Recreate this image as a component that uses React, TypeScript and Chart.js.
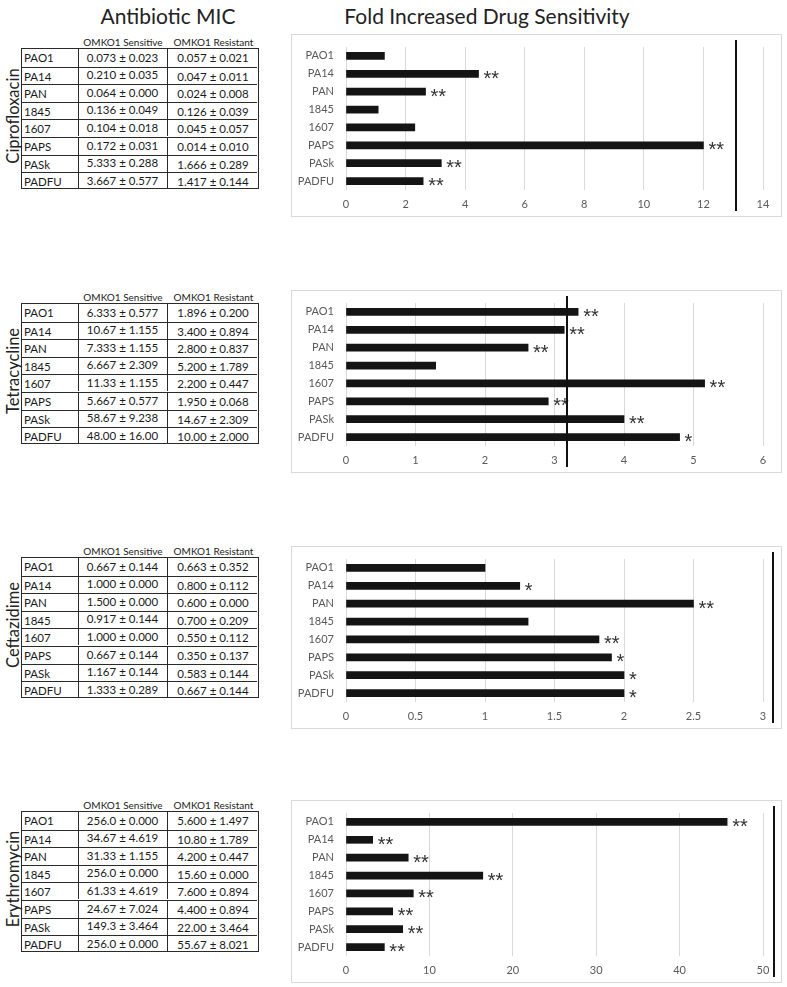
import React, { useEffect, useRef } from "react";
import { Chart, registerables } from "chart.js";
Chart.register(...registerables);

const strains = ["PAO1", "PA14", "PAN", "1845", "1607", "PAPS", "PASk", "PADFU"];
const antibiotics = ["Ciprofloxacin", "Tetracycline", "Ceftazidime", "Erythromycin"];
const columnHeaders = ["OMKO1 Sensitive", "OMKO1 Resistant"];

const cipSensitive = ["0.073 ± 0.023", "0.210 ± 0.035", "0.064 ± 0.000", "0.136 ± 0.049", "0.104 ± 0.018", "0.172 ± 0.031", "5.333 ± 0.288", "3.667 ± 0.577"];
const cipResistant = ["0.057 ± 0.021", "0.047 ± 0.011", "0.024 ± 0.008", "0.126 ± 0.039", "0.045 ± 0.057", "0.014 ± 0.010", "1.666 ± 0.289", "1.417 ± 0.144"];
const tetSensitive = ["6.333 ± 0.577", "10.67 ± 1.155", "7.333 ± 1.155", "6.667 ± 2.309", "11.33 ± 1.155", "5.667 ± 0.577", "58.67 ± 9.238", "48.00 ± 16.00"];
const tetResistant = ["1.896 ± 0.200", "3.400 ± 0.894", "2.800 ± 0.837", "5.200 ± 1.789", "2.200 ± 0.447", "1.950 ± 0.068", "14.67 ± 2.309", "10.00 ± 2.000"];
const cefSensitive = ["0.667 ± 0.144", "1.000 ± 0.000", "1.500 ± 0.000", "0.917 ± 0.144", "1.000 ± 0.000", "0.667 ± 0.144", "1.167 ± 0.144", "1.333 ± 0.289"];
const cefResistant = ["0.663 ± 0.352", "0.800 ± 0.112", "0.600 ± 0.000", "0.700 ± 0.209", "0.550 ± 0.112", "0.350 ± 0.137", "0.583 ± 0.144", "0.667 ± 0.144"];
const erySensitive = ["256.0 ± 0.000", "34.67 ± 4.619", "31.33 ± 1.155", "256.0 ± 0.000", "61.33 ± 4.619", "24.67 ± 7.024", "149.3 ± 3.464", "256.0 ± 0.000"];
const eryResistant = ["5.600 ± 1.497", "10.80 ± 1.789", "4.200 ± 0.447", "15.60 ± 0.000", "7.600 ± 0.894", "4.400 ± 0.894", "22.00 ± 3.464", "55.67 ± 8.021"];

const cipFold = [1.29, 4.45, 2.67, 1.08, 2.31, 12.0, 3.2, 2.59];
const tetFold = [3.34, 3.14, 2.62, 1.29, 5.16, 2.91, 4.0, 4.8];
const cefFold = [1.0, 1.25, 2.5, 1.31, 1.82, 1.91, 2.0, 2.0];
const eryFold = [45.7, 3.2, 7.46, 16.4, 8.07, 5.6, 6.8, 4.6];

const cipSig = ["", "**", "**", "", "", "**", "**", "**"];
const tetSig = ["**", "**", "**", "", "**", "**", "**", "*"];
const cefSig = ["", "*", "**", "", "**", "*", "*", "*"];
const erySig = ["**", "**", "**", "**", "**", "**", "**", "**"];

const axisMax = [14, 6, 3, 50];
const axisStep = [2, 1, 0.5, 10];
const markerLines = [13.1, 3.18, 3.07, 51.3];

const panels = [
  { sens: cipSensitive, res: cipResistant, fold: cipFold, sig: cipSig },
  { sens: tetSensitive, res: tetResistant, fold: tetFold, sig: tetSig },
  { sens: cefSensitive, res: cefResistant, fold: cefFold, sig: cefSig },
  { sens: erySensitive, res: eryResistant, fold: eryFold, sig: erySig },
];

// layout
const tableTops = [48, 303, 557, 811];
const boxTops = [34, 290, 546, 800];
const ROW_H = 17.6;
const TABLE_LEFT = 21;
const COL_W = [57, 90, 91];
const FONT = "Lato, 'Open Sans', sans-serif";

function MicTable({ top, sens, res, name }: any) {
  const width = COL_W[0] + COL_W[1] + COL_W[2];
  const height = ROW_H * 8;
  return (
    <>
      <div style={{ position: "absolute", left: TABLE_LEFT + COL_W[0], top: top - 12.5, width: COL_W[1], textAlign: "center", fontSize: 10, color: "#222", fontFamily: FONT, lineHeight: "12px" }}>{columnHeaders[0]}</div>
      <div style={{ position: "absolute", left: TABLE_LEFT + COL_W[0] + COL_W[1], top: top - 12.5, width: COL_W[2], textAlign: "center", fontSize: 10, color: "#222", fontFamily: FONT, lineHeight: "12px" }}>{columnHeaders[1]}</div>
      <div style={{ position: "absolute", left: 12.5, top: top + height / 2 - 2, transform: "translate(-50%, -50%) rotate(-90deg)", fontSize: 16.5, fontFamily: FONT, color: "#222", whiteSpace: "nowrap" }}>{name}</div>
      <div style={{ position: "absolute", left: TABLE_LEFT, top, width, height, boxSizing: "border-box", border: "1.5px solid #2a2a2a" }}>
        {strains.map((s, i) => (
          <div key={s} style={{ position: "absolute", left: 0, top: i * ROW_H, width: width - 3, height: ROW_H, boxSizing: "border-box", borderTop: i ? "1.5px solid #2a2a2a" : "none", fontFamily: FONT, color: "#1a1a1a" }}>
            <div style={{ position: "absolute", left: 2, top: 0, height: ROW_H, lineHeight: ROW_H + "px", fontSize: 11.5 }}>{s}</div>
            <div style={{ position: "absolute", left: COL_W[0] - 1.5, top: i ? -1.5 : 0, width: COL_W[1], height: ROW_H, boxSizing: "border-box", borderLeft: "1.5px solid #2a2a2a", borderRight: "1.5px solid #2a2a2a", textAlign: "center", lineHeight: ROW_H + "px", fontSize: 11.5 }}>{sens[i]}</div>
            <div style={{ position: "absolute", left: COL_W[0] + COL_W[1] - 1.5, top: 0, width: COL_W[2], height: ROW_H, textAlign: "center", lineHeight: ROW_H + "px", fontSize: 11.5 }}>{res[i]}</div>
          </div>
        ))}
      </div>
    </>
  );
}

function FoldChart({ top, values, sig, max, step, marker }: any) {
  const ref = useRef<HTMLCanvasElement>(null);
  useEffect(() => {
    const extras = {
      id: "extras",
      afterDatasetsDraw(chart: any) {
        const ctx = chart.ctx;
        const meta = chart.getDatasetMeta(0);
        ctx.save();
        ctx.fillStyle = "#333";
        ctx.font = "20px 'Liberation Sans', sans-serif";
        ctx.textAlign = "left";
        ctx.textBaseline = "alphabetic";
        meta.data.forEach((el: any, i: number) => {
          if (sig[i]) ctx.fillText(sig[i], el.x + 5, el.y + 11);
        });
        const xs = chart.scales.x;
        const px = Math.round(xs.getPixelForValue(marker));
        ctx.strokeStyle = "#111";
        ctx.lineWidth = 2;
        ctx.beginPath();
        ctx.moveTo(px, 5);
        ctx.lineTo(px, chart.height - 5);
        ctx.stroke();
        ctx.restore();
      },
    };
    const chart = new Chart(ref.current!, {
      type: "bar",
      data: {
        labels: strains,
        datasets: [{ data: values, backgroundColor: "#141414", barThickness: 7 }],
      },
      options: {
        indexAxis: "y",
        animation: false,
        responsive: true,
        maintainAspectRatio: false,
        layout: { padding: { top: 12, right: 18, left: 0, bottom: 0 } },
        plugins: { legend: { display: false }, tooltip: { enabled: false } },
        scales: {
          x: {
            min: 0,
            max,
            ticks: {
              stepSize: step,
              color: "#595959",
              font: { family: "Lato", size: 11 },
              padding: 8,
              maxRotation: 0,
              callback: (v: any) => String(Number(v)),
            },
            grid: { color: "#d9d9d9", drawTicks: false },
            border: { display: false },
            afterFit: (s: any) => { s.height = 26; },
          },
          y: {
            ticks: { color: "#595959", font: { family: "Lato", size: 11 }, padding: 12 },
            grid: { display: false, drawTicks: false },
            border: { display: false },
            afterFit: (s: any) => { s.width = 54; s.paddingTop = 0; s.paddingBottom = 0; },
          },
        },
      } as any,
      plugins: [extras],
    });
    return () => chart.destroy();
  }, []);
  return (
    <div style={{ position: "absolute", left: 291, top, width: 491, height: 183, boxSizing: "border-box", border: "1px solid #d9d9d9" }}>
      <div style={{ position: "relative", width: 489, height: 181 }}>
        <canvas ref={ref} />
      </div>
    </div>
  );
}

export default function App() {
  return (
    <div style={{ position: "absolute", left: 0, top: 0, width: 787, height: 987, background: "#fff", overflow: "hidden" }}>
      <div style={{ position: "absolute", left: 168, top: 15, transform: "translate(-50%, -50%)", fontFamily: FONT, fontSize: 21, color: "#222", whiteSpace: "nowrap" }}>Antibiotic MIC</div>
      <div style={{ position: "absolute", left: 487, top: 15, transform: "translate(-50%, -50%)", fontFamily: FONT, fontSize: 21, color: "#222", whiteSpace: "nowrap" }}>Fold Increased Drug Sensitivity</div>
      {panels.map((p, k) => (
        <React.Fragment key={k}>
          <MicTable top={tableTops[k]} sens={p.sens} res={p.res} name={antibiotics[k]} />
          <FoldChart top={boxTops[k]} values={p.fold} sig={p.sig} max={axisMax[k]} step={axisStep[k]} marker={markerLines[k]} />
        </React.Fragment>
      ))}
    </div>
  );
}
